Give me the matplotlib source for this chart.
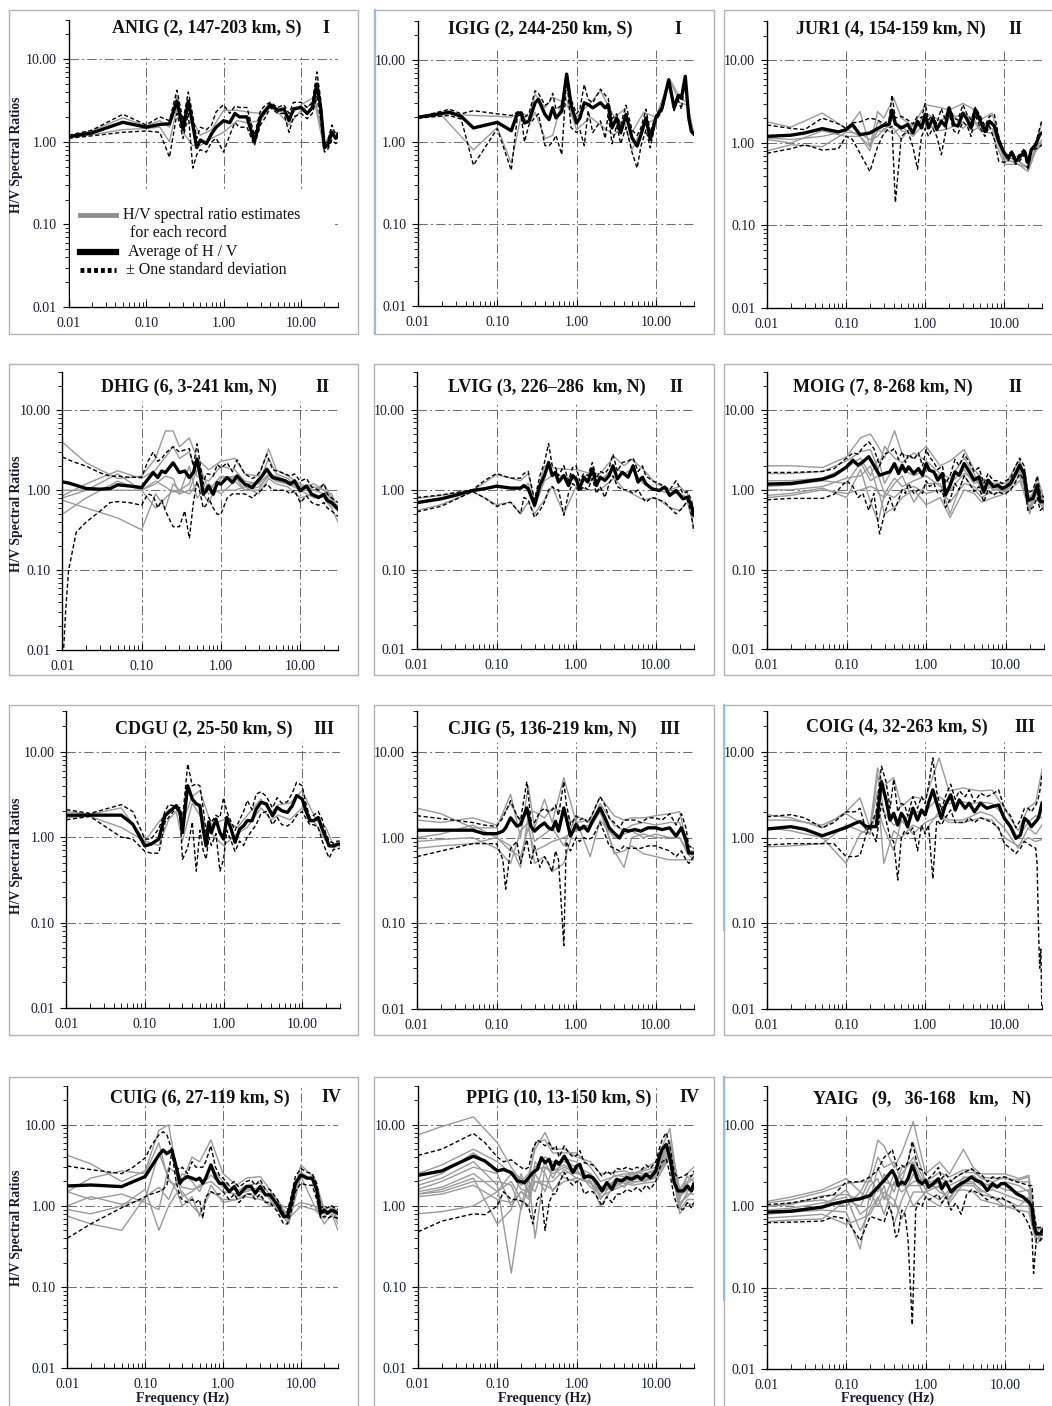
import numpy as np
import matplotlib.pyplot as plt
from matplotlib.patches import Rectangle
from matplotlib.lines import Line2D
from matplotlib.ticker import LogLocator, NullFormatter

W, H = 1052, 1406
plt.rcParams['font.family'] = ['Liberation Serif', 'DejaVu Serif']

#%% Data (Hz, H/V ratio)

# common frequency grid for the individual records (grey)
rec_f = [0.01, 0.02, 0.05, 0.1, 0.15, 0.2, 0.25, 0.3, 0.4, 0.5, 0.7, 1.0, 1.5, 2.0, 3.0, 4.0, 5.0, 7.0, 10, 15, 20, 25, 30]

# ANIG
anig_f = [0.01, 0.02, 0.05, 0.1, 0.15, 0.2, 0.25, 0.3, 0.35, 0.4, 0.45, 0.5, 0.6, 0.7, 0.8, 1.0, 1.2, 1.4, 1.6, 2.0, 2.5, 3.0, 3.5, 4.0, 5.0, 6.0, 7.0, 8.0, 10, 12, 14, 16, 18, 20, 22, 25, 28, 30]
anig_avg = [1.15, 1.28, 1.72, 1.5, 1.62, 1.65, 3.1, 1.4, 3.1, 1.6, 0.85, 1.05, 0.95, 1.25, 1.5, 1.8, 1.7, 2.2, 2.0, 2.0, 1.0, 2.0, 2.4, 2.8, 2.4, 2.5, 1.8, 2.5, 2.6, 2.2, 2.6, 5.0, 2.5, 0.85, 0.9, 1.3, 1.1, 1.2]
anig_hi = [1.2, 1.38, 2.15, 1.6, 2.0, 1.8, 4.2, 1.8, 4.0, 2.1, 1.1, 1.5, 1.4, 1.6, 2.3, 2.8, 2.2, 2.7, 2.6, 2.6, 1.2, 2.4, 2.8, 3.0, 2.6, 2.8, 2.2, 3.0, 3.0, 2.6, 3.0, 7.0, 3.2, 0.95, 1.0, 1.6, 1.2, 1.3]
anig_lo = [1.1, 1.18, 1.3, 1.35, 1.3, 0.65, 2.2, 1.1, 2.2, 0.48, 0.7, 0.8, 0.75, 1.0, 1.1, 0.75, 1.2, 1.7, 1.5, 1.5, 0.9, 1.6, 2.0, 2.6, 2.2, 2.2, 1.3, 2.0, 2.2, 1.9, 2.2, 3.5, 1.8, 0.75, 0.8, 1.05, 0.95, 1.0]
anig_recs = [
    [1.18, 1.35, 1.95, 1.55, 1.8, 1.5, 3.6, 1.5, 1.8, 1.2, 1.4, 2.4, 2.4, 2.3, 2.2, 2.9, 2.5, 2.0, 2.8, 3.5, 0.9, 1.4, 1.25],
    [1.12, 1.22, 1.4, 1.45, 1.5, 1.0, 2.6, 1.3, 0.9, 0.9, 1.1, 1.3, 1.8, 1.7, 1.8, 2.7, 2.3, 1.6, 2.4, 3.0, 0.8, 1.2, 1.1],
]

# IGIG
igig_f = [0.01, 0.025, 0.035, 0.05, 0.1, 0.15, 0.18, 0.2, 0.22, 0.25, 0.3, 0.33, 0.4, 0.45, 0.5, 0.55, 0.65, 0.75, 0.85, 1.0, 1.1, 1.25, 1.4, 1.6, 2.0, 2.3, 2.5, 2.8, 3.2, 3.6, 4.2, 5, 5.8, 6.5, 7.5, 8.5, 10, 12, 14.5, 17, 19, 21, 23.5, 26, 28, 30]
igig_avg = [2.0, 2.3, 2.05, 1.48, 1.73, 1.37, 2.25, 2.25, 1.7, 1.78, 3.0, 3.3, 2.15, 1.87, 2.6, 1.96, 2.36, 6.7, 2.85, 1.7, 1.96, 3.0, 2.85, 2.6, 3.0, 2.6, 2.85, 1.48, 1.96, 1.29, 2.15, 1.12, 0.89, 1.23, 1.96, 1.07, 1.96, 2.6, 5.7, 2.6, 3.6, 3.4, 6.3, 1.96, 1.35, 1.25]
igig_hi = [2.0, 2.5, 2.2, 2.4, 2.2, 2.1, 2.3, 2.35, 2.0, 2.2, 4.2, 3.9, 2.8, 3.0, 3.9, 2.5, 2.8, 7.0, 3.3, 2.2, 2.5, 5.0, 3.3, 3.0, 4.4, 3.7, 3.4, 1.9, 2.2, 1.6, 2.8, 1.4, 1.2, 1.5, 2.5, 1.3, 2.1, 2.7, 5.9, 2.8, 3.8, 3.7, 6.3, 2.0, 1.4, 1.25]
igig_lo = [1.95, 2.1, 1.9, 0.52, 1.45, 0.45, 2.1, 2.1, 1.0, 1.6, 2.0, 2.2, 0.9, 0.9, 1.0, 1.2, 0.7, 6.2, 1.5, 1.3, 1.4, 0.9, 2.4, 1.3, 1.8, 1.1, 2.2, 0.95, 1.6, 0.95, 1.5, 0.75, 0.48, 0.9, 1.4, 0.85, 1.8, 2.4, 5.5, 2.4, 3.3, 2.5, 6.0, 1.9, 1.3, 1.25]
igig_recs = [
    [2.0, 2.2, 2.1, 2.05, 2.0, 2.3, 2.0, 3.8, 2.6, 3.5, 3.0, 2.0, 3.0, 4.2, 2.0, 2.5, 1.3, 2.3, 2.0, 5.8, 3.5, 3.0, 1.25],
    [1.95, 2.1, 0.8, 1.5, 0.55, 2.1, 1.7, 2.3, 1.1, 1.2, 4.0, 1.4, 2.0, 1.6, 1.2, 1.8, 0.8, 1.6, 1.9, 5.6, 3.0, 2.8, 1.25],
]

# JUR1
jur1_f = [0.01, 0.02, 0.03, 0.05, 0.08, 0.1, 0.12, 0.15, 0.2, 0.25, 0.3, 0.35, 0.38, 0.42, 0.5, 0.6, 0.7, 0.8, 0.9, 1.0, 1.1, 1.25, 1.4, 1.6, 1.8, 2.0, 2.3, 2.6, 3.0, 3.4, 3.8, 4.3, 5, 5.7, 6.5, 7.5, 8.5, 10, 11, 12.5, 14, 16, 18, 20, 22, 25, 28, 30]
jur1_avg = [1.2, 1.24, 1.32, 1.49, 1.36, 1.45, 1.67, 1.26, 1.32, 1.49, 1.64, 1.67, 2.5, 1.7, 1.52, 1.67, 1.32, 1.83, 1.52, 2.2, 1.52, 2.0, 1.45, 1.83, 1.6, 2.66, 1.67, 1.6, 2.3, 1.92, 1.52, 2.54, 1.83, 1.38, 1.83, 1.6, 1.05, 0.76, 0.66, 0.76, 0.6, 0.69, 0.79, 0.57, 0.83, 0.95, 1.26, 1.32]
jur1_hi = [1.65, 1.5, 1.45, 2.0, 1.7, 1.5, 1.75, 1.8, 2.0, 1.9, 1.7, 1.9, 3.8, 2.0, 2.1, 1.9, 1.7, 2.1, 2.0, 3.0, 1.9, 2.2, 1.7, 2.6, 1.9, 2.8, 2.0, 1.9, 2.9, 2.2, 1.9, 2.7, 2.1, 1.6, 2.1, 2.2, 1.2, 0.75, 0.72, 0.8, 0.65, 0.75, 0.85, 0.62, 0.85, 1.0, 1.5, 1.9]
jur1_lo = [0.75, 0.85, 0.95, 0.82, 0.85, 1.2, 1.1, 0.75, 0.45, 0.9, 1.3, 1.5, 1.6, 0.19, 1.2, 1.4, 0.9, 0.48, 1.2, 1.5, 1.2, 1.5, 1.2, 0.72, 1.3, 2.3, 1.4, 1.3, 1.8, 1.6, 1.2, 2.2, 1.5, 1.2, 1.6, 1.1, 0.6, 0.58, 0.6, 0.7, 0.55, 0.62, 0.72, 0.47, 0.8, 0.85, 0.9, 0.95]
jur1_recs = [
    [1.8, 1.55, 2.3, 1.5, 1.2, 0.9, 2.4, 2.0, 3.5, 2.0, 1.6, 2.9, 2.7, 2.5, 3.0, 2.6, 1.9, 2.3, 0.7, 0.6, 0.5, 0.9, 1.8],
    [1.15, 1.1, 1.2, 1.4, 2.4, 0.9, 1.4, 1.4, 2.0, 1.4, 1.3, 2.3, 1.9, 2.0, 2.2, 2.0, 1.5, 1.8, 0.6, 0.6, 0.5, 0.85, 1.1],
    [1.1, 1.0, 1.4, 1.2, 1.2, 0.8, 1.8, 1.6, 1.5, 1.1, 1.7, 1.5, 1.6, 2.6, 1.5, 1.9, 1.4, 1.3, 0.55, 0.55, 0.45, 0.8, 1.0],
    [0.8, 0.95, 0.9, 1.35, 1.3, 1.1, 1.2, 1.5, 1.3, 1.6, 1.2, 1.8, 1.4, 1.5, 1.8, 1.4, 1.6, 1.5, 0.65, 0.55, 0.5, 0.8, 0.95],
]

# DHIG
dhig_f = [0.01, 0.011, 0.012, 0.015, 0.02, 0.03, 0.04, 0.05, 0.07, 0.1, 0.12, 0.14, 0.16, 0.18, 0.2, 0.25, 0.3, 0.35, 0.4, 0.45, 0.5, 0.55, 0.6, 0.65, 0.7, 0.8, 0.9, 1.0, 1.2, 1.4, 1.6, 2.0, 2.5, 2.8, 3.2, 3.8, 4.5, 5.5, 6.5, 7.5, 8.5, 10, 12, 14, 17, 20, 22, 25, 30]
dhig_avg = [1.27, 1.25, 1.23, 1.15, 1.05, 1.03, 1.05, 1.17, 1.13, 1.08, 1.37, 1.66, 1.44, 1.74, 1.66, 2.2, 1.66, 1.74, 1.44, 1.66, 2.44, 1.51, 0.89, 0.98, 1.13, 0.89, 1.25, 1.19, 1.44, 1.25, 1.51, 1.19, 1.08, 1.25, 1.44, 1.83, 1.44, 1.37, 1.31, 1.19, 1.31, 0.98, 1.13, 0.89, 0.81, 0.89, 0.74, 0.7, 0.58]
dhig_hi = [2.6, 2.5, 2.4, 2.2, 2.0, 1.65, 1.5, 1.5, 1.45, 1.45, 2.3, 3.0, 2.3, 2.5, 2.9, 3.5, 3.0, 3.2, 3.3, 2.0, 3.8, 2.1, 1.2, 1.6, 1.6, 1.5, 2.1, 1.9, 2.2, 1.7, 2.4, 1.6, 1.4, 1.5, 1.8, 2.8, 1.8, 1.7, 1.6, 1.5, 1.6, 1.3, 1.4, 1.1, 1.0, 1.2, 0.9, 0.8, 0.7]
dhig_lo = [0.005, 0.03, 0.1, 0.3, 0.4, 0.55, 0.7, 0.72, 0.7, 0.65, 0.9, 0.85, 0.6, 0.75, 0.55, 0.35, 0.35, 0.55, 0.25, 0.7, 1.3, 0.9, 0.6, 0.65, 0.8, 0.6, 0.5, 0.5, 0.8, 0.9, 0.9, 0.9, 0.8, 0.9, 1.0, 1.2, 1.0, 1.0, 1.0, 0.9, 1.0, 0.7, 0.85, 0.7, 0.65, 0.7, 0.6, 0.55, 0.47]
dhig_recs = [
    [4.0, 2.2, 1.4, 1.5, 2.5, 5.5, 5.5, 3.5, 4.5, 2.5, 1.8, 2.3, 2.5, 1.6, 1.5, 3.3, 1.8, 1.5, 1.2, 1.0, 1.2, 0.8, 0.6],
    [0.85, 1.2, 1.75, 1.4, 1.8, 2.6, 3.5, 2.5, 3.0, 1.5, 1.3, 2.0, 1.8, 1.3, 1.2, 2.5, 1.6, 1.4, 1.0, 1.0, 0.9, 0.7, 0.65],
    [0.8, 1.0, 1.6, 1.0, 1.2, 1.5, 1.4, 0.9, 1.0, 1.8, 0.9, 1.0, 1.0, 1.1, 0.9, 1.4, 1.2, 1.1, 0.8, 0.9, 0.8, 0.6, 0.4],
    [0.75, 0.6, 0.45, 0.32, 0.9, 0.6, 1.2, 1.0, 0.9, 1.2, 0.7, 1.4, 1.5, 1.0, 1.0, 1.6, 1.3, 1.2, 1.1, 1.2, 1.0, 0.9, 0.55],
    [0.5, 0.8, 1.3, 1.0, 0.6, 0.8, 1.0, 0.9, 2.0, 0.8, 1.2, 0.9, 1.3, 1.0, 1.1, 1.5, 1.3, 1.2, 1.0, 0.8, 0.9, 0.65, 0.55],
    [1.0, 1.0, 1.0, 1.0, 1.3, 1.1, 0.95, 1.0, 1.2, 2.5, 1.0, 1.5, 1.4, 1.2, 1.2, 1.6, 1.5, 1.3, 1.1, 1.1, 1.0, 0.75, 0.6],
]

# LVIG
lvig_f = [0.01, 0.02, 0.03, 0.05, 0.07, 0.1, 0.15, 0.2, 0.22, 0.25, 0.3, 0.35, 0.4, 0.45, 0.5, 0.55, 0.6, 0.7, 0.8, 0.9, 1.0, 1.1, 1.25, 1.4, 1.6, 1.8, 2.0, 2.3, 2.6, 2.9, 3.3, 3.8, 4.5, 5.2, 6, 6.8, 7.5, 9, 11, 13, 15, 18, 22, 25, 28, 30]
lvig_avg = [0.69, 0.77, 0.85, 0.98, 1.03, 1.11, 1.05, 1.05, 1.13, 1.03, 0.64, 1.13, 1.51, 2.2, 1.51, 1.66, 1.25, 1.51, 1.13, 1.51, 1.37, 1.03, 1.44, 1.25, 1.83, 1.13, 1.44, 1.31, 1.51, 2.0, 1.37, 1.66, 1.44, 2.0, 1.25, 1.44, 1.19, 1.03, 0.98, 1.08, 0.85, 0.98, 0.77, 0.81, 0.64, 0.48]
lvig_hi = [0.8, 0.86, 0.92, 1.0, 1.3, 1.6, 1.4, 1.4, 1.6, 1.7, 0.75, 1.5, 2.2, 3.8, 2.0, 1.9, 1.5, 2.0, 1.3, 1.9, 2.0, 1.3, 1.6, 1.5, 2.2, 1.4, 1.7, 1.6, 1.9, 2.8, 1.7, 2.2, 2.3, 2.5, 1.7, 2.0, 1.5, 1.3, 1.2, 1.1, 1.0, 1.3, 0.9, 0.95, 0.75, 0.55]
lvig_lo = [0.53, 0.62, 0.75, 0.95, 0.8, 0.62, 0.7, 0.5, 0.8, 0.75, 0.45, 0.55, 0.7, 1.0, 1.1, 1.0, 1.0, 0.48, 0.9, 1.2, 1.1, 0.95, 1.1, 1.0, 1.4, 0.9, 1.1, 0.8, 1.2, 1.5, 1.1, 1.0, 1.0, 0.9, 1.0, 0.8, 0.7, 0.8, 0.75, 0.7, 0.6, 0.5, 0.6, 0.75, 0.5, 0.3]
lvig_recs = [
    [0.78, 0.85, 0.98, 1.55, 1.4, 1.3, 1.6, 0.7, 2.0, 1.9, 1.8, 1.8, 1.6, 1.6, 2.6, 2.0, 2.4, 1.8, 1.2, 1.0, 1.1, 0.9, 0.55],
    [0.55, 0.65, 0.95, 0.65, 0.7, 0.5, 0.7, 0.5, 0.75, 1.1, 0.5, 1.1, 1.0, 1.0, 1.4, 1.0, 0.9, 0.75, 0.8, 0.6, 0.55, 0.7, 0.35],
    [0.7, 0.78, 1.0, 1.1, 1.05, 1.0, 1.2, 0.6, 1.3, 1.5, 1.5, 1.3, 1.3, 1.3, 1.9, 1.6, 1.8, 1.2, 1.0, 0.9, 0.9, 0.8, 0.45],
]

# MOIG
moig_f = [0.01, 0.02, 0.05, 0.07, 0.1, 0.12, 0.14, 0.16, 0.19, 0.22, 0.26, 0.3, 0.35, 0.4, 0.45, 0.5, 0.55, 0.6, 0.7, 0.8, 0.9, 1.0, 1.1, 1.25, 1.4, 1.6, 1.75, 2.0, 2.3, 2.6, 3.0, 3.5, 4.0, 4.6, 5.3, 6.0, 7.0, 8, 9, 10, 11.5, 13, 15, 17, 19, 22, 25, 27, 30]
moig_avg = [1.18, 1.2, 1.36, 1.52, 1.94, 2.35, 2.03, 2.24, 2.6, 2.03, 1.52, 1.6, 1.68, 2.13, 1.6, 2.03, 1.68, 1.94, 1.6, 1.85, 1.52, 2.13, 1.76, 1.68, 1.32, 1.6, 0.86, 1.14, 1.68, 1.52, 2.13, 1.68, 1.32, 1.45, 0.94, 1.32, 1.09, 1.14, 1.04, 1.09, 1.2, 1.52, 2.03, 1.6, 0.74, 0.78, 1.14, 0.71, 0.71]
moig_hi = [1.65, 1.65, 1.7, 1.85, 2.5, 2.9, 2.8, 3.4, 4.0, 3.3, 2.0, 2.8, 3.0, 3.3, 2.4, 3.0, 2.2, 2.8, 2.4, 2.9, 2.0, 3.2, 2.6, 2.2, 1.8, 2.0, 1.2, 1.5, 2.4, 2.0, 2.8, 2.2, 1.7, 1.9, 1.2, 1.6, 1.3, 1.3, 1.2, 1.3, 1.4, 1.9, 2.5, 2.0, 0.9, 1.0, 1.5, 0.9, 0.8]
moig_lo = [0.75, 0.78, 0.78, 0.88, 1.3, 1.1, 0.8, 0.9, 0.55, 0.9, 0.28, 0.5, 0.8, 0.55, 0.75, 1.0, 0.9, 1.2, 0.9, 1.0, 0.9, 1.3, 1.1, 1.2, 0.9, 1.0, 0.6, 0.75, 1.2, 1.0, 1.5, 1.2, 0.95, 1.1, 0.7, 1.0, 0.85, 0.95, 0.9, 0.9, 1.0, 1.2, 1.6, 1.3, 0.55, 0.6, 0.8, 0.55, 0.6]
moig_recs = [
    [2.0, 2.0, 1.9, 2.6, 4.5, 5.0, 3.5, 2.5, 5.5, 2.8, 2.5, 3.5, 2.0, 2.3, 3.2, 1.8, 1.4, 1.2, 1.2, 2.4, 0.7, 1.4, 0.8],
    [1.6, 1.6, 1.7, 2.3, 3.0, 3.2, 1.8, 3.5, 2.5, 2.2, 2.9, 2.3, 1.6, 1.4, 2.5, 1.6, 1.0, 1.1, 1.0, 2.2, 0.6, 1.2, 0.7],
    [1.3, 1.3, 1.4, 1.9, 2.5, 1.5, 2.5, 1.2, 2.0, 1.8, 1.5, 1.8, 1.5, 1.2, 1.8, 1.2, 1.3, 1.0, 1.1, 1.9, 0.55, 1.0, 0.6],
    [1.0, 1.0, 1.1, 1.4, 1.5, 2.0, 0.9, 0.8, 1.2, 1.5, 0.7, 1.2, 1.2, 0.5, 1.5, 1.0, 0.8, 1.0, 1.0, 1.7, 0.7, 0.9, 0.65],
    [0.85, 0.9, 1.05, 0.8, 1.8, 0.7, 0.4, 0.9, 0.8, 1.0, 1.1, 0.9, 1.0, 0.7, 1.2, 1.1, 0.9, 0.9, 0.95, 1.5, 0.5, 1.1, 0.6],
    [0.8, 0.85, 1.0, 0.9, 1.0, 1.1, 1.0, 0.5, 0.6, 0.8, 1.0, 0.65, 0.8, 0.45, 1.0, 0.9, 0.7, 0.8, 0.9, 1.3, 0.6, 0.8, 0.55],
    [1.1, 1.15, 1.3, 1.2, 2.2, 1.3, 1.5, 0.9, 1.4, 1.1, 1.3, 1.5, 1.1, 1.0, 1.6, 1.4, 1.1, 1.2, 1.2, 1.8, 0.8, 1.1, 0.7],
]

# CDGU
cdgu_f = [0.01, 0.02, 0.05, 0.07, 0.1, 0.12, 0.15, 0.18, 0.2, 0.25, 0.28, 0.3, 0.35, 0.4, 0.45, 0.5, 0.55, 0.6, 0.65, 0.7, 0.8, 0.9, 1.0, 1.1, 1.25, 1.4, 1.6, 1.8, 2.0, 2.3, 2.6, 3.0, 3.5, 4.2, 4.8, 5.5, 6.5, 7.5, 8.5, 10, 11, 12.5, 14, 16, 18, 20, 22, 25, 28, 30]
cdgu_avg = [1.81, 1.81, 1.81, 1.42, 0.79, 0.83, 0.95, 1.78, 1.95, 2.34, 1.95, 1.13, 4.0, 2.8, 2.45, 2.34, 1.24, 0.79, 1.49, 1.13, 1.63, 1.13, 0.95, 1.7, 1.24, 0.87, 1.24, 1.36, 1.56, 1.56, 2.13, 2.56, 2.45, 1.78, 2.23, 2.04, 1.95, 2.34, 3.07, 2.8, 2.13, 1.56, 1.56, 1.7, 1.24, 1.0, 0.79, 0.79, 0.83, 0.83]
cdgu_hi = [2.1, 1.9, 2.4, 2.0, 0.95, 0.95, 1.25, 2.0, 2.4, 2.3, 2.2, 1.6, 7.2, 4.0, 4.2, 4.0, 2.2, 1.1, 1.7, 1.5, 1.8, 1.7, 2.9, 2.0, 1.5, 1.2, 1.6, 2.0, 2.7, 2.1, 3.2, 3.4, 3.0, 2.2, 2.9, 2.5, 2.6, 3.3, 4.4, 4.0, 2.6, 1.7, 1.8, 2.0, 1.6, 1.1, 0.9, 0.85, 0.9, 0.9]
cdgu_lo = [1.6, 1.75, 1.0, 0.95, 0.68, 0.65, 0.65, 1.5, 1.7, 2.2, 1.8, 0.55, 0.75, 1.5, 0.4, 1.2, 0.7, 0.55, 1.0, 0.8, 1.1, 0.4, 0.55, 1.2, 0.9, 0.68, 0.9, 0.8, 1.0, 1.2, 1.4, 1.9, 2.0, 1.4, 1.7, 1.4, 1.35, 1.5, 1.8, 2.0, 1.7, 1.4, 1.4, 1.3, 0.9, 0.7, 0.57, 0.72, 0.72, 0.75]
cdgu_recs = [
    [2.0, 1.85, 2.2, 0.9, 1.5, 2.1, 2.2, 1.5, 3.0, 3.5, 1.4, 1.6, 1.3, 1.8, 2.8, 1.9, 2.4, 2.5, 3.5, 1.6, 1.3, 0.8, 0.85],
    [1.7, 1.75, 1.3, 0.9, 0.8, 1.6, 2.0, 0.9, 2.5, 1.8, 1.1, 0.8, 1.1, 1.3, 2.2, 1.6, 1.8, 1.6, 2.2, 1.4, 0.9, 0.75, 0.8],
]

# CJIG
cjig_f = [0.01, 0.05, 0.07, 0.1, 0.12, 0.13, 0.15, 0.18, 0.2, 0.24, 0.27, 0.3, 0.35, 0.4, 0.45, 0.5, 0.55, 0.6, 0.7, 0.75, 0.85, 1.0, 1.1, 1.25, 1.4, 1.6, 2.0, 2.3, 2.6, 3.0, 3.5, 4.0, 4.5, 5.5, 6.5, 8, 10, 12, 15, 18, 21, 24, 26, 30]
cjig_avg = [1.22, 1.22, 1.11, 1.11, 1.19, 1.3, 1.7, 1.36, 1.42, 2.22, 1.36, 1.19, 1.36, 1.48, 1.3, 1.24, 1.55, 1.19, 2.22, 1.7, 1.04, 1.42, 1.24, 1.36, 1.19, 1.55, 2.22, 1.7, 1.3, 1.13, 0.99, 1.24, 1.19, 1.24, 1.19, 1.3, 1.3, 1.24, 1.3, 1.04, 1.3, 0.95, 0.66, 0.66]
cjig_hi = [1.8, 1.5, 1.4, 1.35, 1.7, 2.0, 2.7, 1.8, 1.6, 4.5, 1.6, 1.5, 2.0, 2.2, 2.0, 2.1, 2.4, 1.8, 4.5, 2.5, 1.4, 1.8, 1.6, 1.7, 1.5, 1.9, 3.0, 2.4, 1.7, 1.5, 1.3, 1.6, 1.6, 1.6, 1.5, 1.7, 1.7, 1.6, 1.9, 1.4, 1.9, 1.3, 0.8, 0.75]
cjig_lo = [0.6, 0.85, 0.85, 0.85, 0.55, 0.25, 0.75, 0.9, 0.5, 0.95, 0.5, 0.8, 0.45, 0.6, 0.5, 0.4, 0.7, 0.55, 0.055, 0.9, 0.7, 1.0, 0.9, 1.0, 0.95, 1.0, 1.5, 1.1, 0.8, 0.75, 0.7, 0.8, 0.75, 0.75, 0.75, 0.8, 0.8, 0.75, 0.7, 0.6, 0.7, 0.55, 0.5, 0.6]
cjig_recs = [
    [2.2, 1.9, 1.3, 1.3, 3.2, 1.0, 4.0, 1.3, 2.8, 1.5, 5.0, 1.5, 1.6, 3.0, 1.8, 1.6, 1.7, 1.7, 1.8, 1.9, 2.0, 0.8, 0.75],
    [1.6, 1.5, 1.7, 1.4, 2.5, 1.5, 2.0, 2.0, 1.7, 2.2, 2.0, 1.3, 1.4, 2.5, 1.4, 1.2, 1.4, 1.5, 1.4, 1.5, 1.5, 0.7, 0.7],
    [1.0, 1.1, 1.4, 1.0, 0.7, 0.6, 1.3, 0.7, 0.8, 0.9, 1.0, 1.2, 1.3, 2.0, 0.7, 0.45, 1.0, 1.1, 1.0, 1.0, 1.0, 0.7, 0.6],
    [0.9, 0.95, 1.0, 0.75, 0.5, 1.2, 1.5, 0.5, 0.6, 0.4, 0.5, 1.6, 0.6, 1.6, 1.0, 1.1, 1.2, 1.0, 1.1, 1.0, 1.0, 0.65, 0.55],
    [0.75, 0.8, 0.85, 1.0, 0.8, 0.45, 1.8, 0.9, 1.1, 1.3, 0.8, 1.8, 1.5, 2.2, 0.65, 0.7, 0.8, 0.65, 0.6, 0.55, 0.55, 0.55, 0.55],
]

# COIG
coig_f = [0.01, 0.02, 0.03, 0.05, 0.07, 0.1, 0.13, 0.15, 0.18, 0.2, 0.24, 0.28, 0.32, 0.36, 0.4, 0.45, 0.5, 0.55, 0.6, 0.7, 0.8, 0.9, 1.0, 1.1, 1.25, 1.4, 1.6, 1.8, 2.1, 2.4, 2.7, 3.2, 3.6, 4.2, 5, 6, 7, 8.5, 10, 12, 14, 16, 18, 20, 22, 25, 26, 27, 28, 29, 30]
coig_avg = [1.26, 1.34, 1.25, 1.05, 1.17, 1.31, 1.47, 1.54, 1.34, 1.34, 1.34, 4.5, 2.75, 1.6, 1.92, 1.4, 1.92, 1.68, 1.34, 2.2, 1.6, 2.1, 1.84, 2.52, 3.6, 2.52, 1.68, 2.4, 3.15, 2.1, 2.75, 2.2, 2.52, 2.0, 2.52, 2.2, 2.3, 2.4, 1.68, 1.34, 0.98, 1.07, 1.68, 1.54, 1.34, 1.54, 1.6, 1.7, 1.9, 2.2, 2.52]
coig_hi = [1.75, 1.85, 1.7, 1.3, 1.5, 2.0, 2.0, 2.2, 1.2, 1.3, 2.0, 6.8, 4.5, 2.2, 4.8, 2.0, 2.5, 2.4, 1.8, 3.0, 2.2, 3.0, 2.5, 4.0, 8.5, 3.4, 2.1, 3.0, 4.2, 2.8, 3.5, 3.0, 3.6, 2.6, 3.3, 3.0, 3.2, 3.6, 2.2, 1.8, 1.3, 1.6, 2.2, 2.2, 2.0, 2.4, 2.6, 2.9, 3.4, 4.2, 5.5]
coig_lo = [0.82, 0.85, 0.85, 0.85, 0.85, 0.6, 0.6, 0.62, 1.1, 1.3, 0.9, 2.5, 1.6, 1.0, 0.9, 0.32, 1.0, 1.2, 1.1, 1.3, 0.7, 1.4, 1.1, 1.4, 0.33, 1.6, 1.4, 1.7, 2.1, 1.5, 1.5, 1.5, 1.7, 1.5, 1.7, 1.6, 1.5, 1.3, 0.85, 0.75, 0.65, 0.75, 0.9, 0.85, 0.8, 0.75, 0.5, 0.1, 0.03, 0.05, 0.008]
coig_recs = [
    [1.85, 1.7, 1.3, 2.0, 2.9, 1.3, 6.5, 4.0, 5.0, 2.3, 3.0, 2.8, 8.5, 3.5, 3.8, 3.6, 3.5, 3.6, 2.2, 1.2, 2.2, 2.6, 6.2],
    [1.6, 1.6, 1.4, 1.9, 1.5, 1.1, 5.5, 2.0, 1.4, 1.5, 2.0, 2.0, 3.0, 2.5, 2.6, 2.5, 2.6, 2.5, 1.8, 1.0, 1.5, 1.8, 1.7],
    [1.3, 1.2, 1.0, 0.5, 1.1, 1.3, 3.5, 0.5, 1.2, 1.0, 1.4, 1.2, 2.0, 1.6, 1.6, 1.8, 2.0, 1.8, 1.3, 0.75, 1.3, 1.1, 1.4],
    [0.78, 0.8, 0.85, 1.4, 1.2, 1.1, 2.2, 1.3, 0.7, 1.6, 1.1, 1.5, 1.8, 1.5, 1.5, 1.6, 1.7, 1.6, 1.0, 0.8, 1.0, 0.9, 0.95],
]

# CUIG
cuig_f = [0.01, 0.02, 0.05, 0.07, 0.1, 0.12, 0.15, 0.17, 0.19, 0.22, 0.25, 0.28, 0.3, 0.35, 0.4, 0.45, 0.5, 0.55, 0.6, 0.7, 0.8, 0.9, 1.0, 1.2, 1.4, 1.6, 2.0, 2.3, 2.6, 3.0, 3.5, 4.0, 5, 6, 6.7, 7.5, 8.5, 10, 12, 14, 16, 18, 20, 22, 25, 30]
cuig_avg = [1.76, 1.81, 1.73, 1.99, 2.3, 3.04, 4.24, 4.88, 4.4, 4.88, 3.04, 1.9, 2.09, 2.3, 2.2, 2.09, 2.2, 1.9, 2.2, 3.2, 2.3, 1.9, 1.9, 1.5, 1.73, 1.37, 1.73, 1.73, 1.43, 1.73, 1.37, 1.37, 1.03, 0.74, 0.74, 1.08, 1.9, 2.4, 2.2, 2.2, 1.57, 0.81, 0.89, 0.81, 0.89, 0.81]
cuig_hi = [3.1, 2.8, 2.5, 3.0, 3.9, 5.5, 7.5, 8.2, 7.5, 5.0, 3.0, 2.8, 3.0, 2.5, 3.5, 3.0, 3.0, 3.0, 3.5, 5.5, 3.0, 2.4, 2.2, 1.8, 2.0, 1.7, 2.0, 2.1, 1.8, 2.1, 1.6, 1.6, 1.2, 0.8, 0.85, 1.3, 2.3, 2.9, 2.6, 2.5, 1.9, 0.95, 1.0, 0.95, 1.0, 0.9]
cuig_lo = [0.4, 0.6, 0.95, 1.1, 1.3, 1.4, 1.5, 1.6, 1.8, 4.7, 2.0, 1.3, 1.2, 1.1, 1.2, 1.1, 1.2, 0.7, 1.3, 1.5, 1.4, 1.4, 1.5, 1.2, 1.4, 1.1, 1.4, 1.4, 1.2, 1.4, 1.1, 1.1, 0.85, 0.6, 0.6, 0.85, 1.5, 1.9, 1.8, 1.8, 1.2, 0.7, 0.75, 0.7, 0.75, 0.7]
cuig_recs = [
    [4.2, 3.3, 2.0, 2.7, 8.5, 10.0, 3.0, 2.0, 4.0, 3.5, 6.5, 2.5, 1.8, 2.2, 2.3, 1.6, 1.0, 0.8, 3.2, 2.2, 0.9, 1.0, 0.8],
    [1.5, 2.2, 2.7, 2.5, 6.0, 2.0, 1.8, 2.5, 2.0, 1.5, 3.0, 2.0, 1.5, 1.8, 1.9, 1.4, 1.2, 0.7, 2.6, 2.0, 0.8, 0.9, 0.7],
    [1.5, 1.2, 1.4, 1.1, 0.9, 3.0, 2.5, 1.3, 1.5, 1.8, 2.0, 1.5, 1.4, 1.5, 1.7, 1.2, 0.9, 0.6, 2.3, 1.0, 0.6, 0.8, 0.5],
    [0.9, 0.8, 1.0, 1.6, 0.5, 1.0, 1.4, 1.5, 1.0, 0.8, 1.5, 1.2, 1.2, 1.3, 1.2, 1.1, 1.0, 0.7, 1.0, 0.9, 0.7, 1.0, 0.85],
    [0.75, 0.6, 0.5, 1.3, 1.7, 1.2, 2.0, 1.7, 1.6, 1.7, 2.4, 1.7, 1.3, 1.6, 1.5, 1.3, 1.1, 0.65, 2.5, 2.0, 0.9, 0.85, 0.8],
    [1.0, 1.3, 1.05, 1.2, 4.5, 2.2, 1.6, 1.0, 1.3, 0.75, 1.8, 1.1, 1.2, 1.4, 1.3, 1.0, 1.1, 0.9, 1.1, 1.0, 0.8, 0.9, 0.6],
]

# PPIG
ppig_f = [0.01, 0.02, 0.05, 0.07, 0.1, 0.12, 0.15, 0.18, 0.22, 0.25, 0.28, 0.32, 0.36, 0.4, 0.45, 0.5, 0.55, 0.6, 0.7, 0.8, 0.9, 1.0, 1.1, 1.25, 1.4, 1.6, 1.8, 2.1, 2.4, 2.8, 3.2, 3.7, 4.3, 5, 5.8, 6.6, 7.5, 8.5, 10, 11, 12, 13.5, 15, 17, 19, 22, 25, 28, 30]
ppig_avg = [2.38, 2.7, 4.1, 3.57, 2.7, 2.82, 2.57, 2.03, 1.94, 2.23, 2.57, 2.82, 3.93, 3.4, 3.75, 2.82, 3.57, 3.25, 4.1, 3.25, 2.57, 3.1, 3.25, 2.23, 2.34, 2.23, 1.94, 1.53, 1.94, 1.6, 2.13, 2.03, 2.23, 2.13, 2.34, 2.13, 2.45, 2.23, 2.7, 3.93, 4.97, 5.7, 3.93, 1.94, 1.53, 1.53, 1.76, 1.53, 1.85]
ppig_hi = [4.2, 5.0, 7.8, 6.0, 4.0, 3.5, 3.7, 3.2, 2.8, 3.0, 5.0, 6.5, 6.0, 5.5, 6.0, 5.0, 5.5, 4.0, 5.5, 4.5, 4.0, 4.2, 4.8, 3.4, 3.3, 3.2, 2.8, 2.3, 2.7, 2.4, 2.9, 2.8, 3.0, 2.8, 3.0, 2.8, 3.2, 2.9, 3.5, 5.0, 6.5, 8.0, 5.5, 2.6, 2.2, 2.3, 2.5, 2.3, 2.7]
ppig_lo = [0.48, 0.65, 0.8, 0.78, 1.0, 1.5, 1.2, 1.2, 1.1, 0.95, 0.6, 1.2, 1.4, 0.5, 1.1, 1.4, 1.4, 1.9, 2.6, 2.0, 1.8, 2.0, 2.0, 1.4, 1.5, 1.5, 1.3, 1.0, 1.3, 1.1, 1.4, 1.4, 1.6, 1.5, 1.7, 1.5, 1.8, 1.6, 2.0, 2.8, 3.5, 3.8, 2.5, 1.3, 0.95, 0.9, 1.1, 0.95, 1.1]
ppig_recs = [
    [7.5, 9.5, 12.5, 6.0, 3.0, 2.0, 2.5, 5.0, 8.0, 5.0, 5.0, 4.0, 3.5, 2.5, 2.6, 2.7, 2.5, 2.8, 3.5, 9.0, 1.2, 2.5, 3.0],
    [2.5, 3.2, 5.0, 3.5, 2.5, 1.8, 2.0, 6.0, 6.5, 4.5, 4.5, 4.5, 3.0, 2.0, 2.3, 2.5, 2.4, 2.7, 3.0, 6.5, 1.6, 2.3, 2.0],
    [2.0, 2.5, 4.5, 2.8, 2.6, 2.2, 1.5, 3.0, 4.0, 3.5, 3.5, 3.0, 2.5, 1.7, 2.0, 2.2, 2.3, 2.4, 2.7, 5.5, 1.3, 1.6, 1.7],
    [1.8, 2.2, 3.5, 1.8, 0.15, 1.0, 2.2, 0.4, 3.0, 2.5, 3.0, 2.5, 2.3, 1.5, 1.9, 2.0, 2.1, 2.2, 2.5, 5.0, 1.0, 1.4, 1.4],
    [1.6, 2.0, 3.0, 2.5, 1.0, 1.5, 1.3, 2.0, 2.0, 2.0, 2.8, 2.2, 2.0, 1.3, 1.6, 1.8, 2.0, 2.0, 2.3, 4.5, 0.9, 1.2, 1.2],
    [1.5, 1.7, 2.5, 1.5, 2.0, 1.2, 1.0, 2.5, 1.5, 3.0, 2.2, 2.0, 2.5, 1.2, 2.1, 1.9, 1.8, 1.9, 2.0, 4.0, 0.8, 1.1, 1.0],
    [1.4, 1.5, 2.0, 2.0, 1.8, 0.9, 1.8, 1.5, 3.5, 2.2, 3.8, 3.5, 2.0, 1.0, 1.8, 2.1, 2.5, 2.0, 2.2, 4.8, 1.1, 1.3, 1.6],
    [1.3, 1.4, 1.8, 1.2, 1.1, 1.5, 1.2, 3.5, 2.5, 1.5, 2.5, 2.8, 1.7, 1.4, 2.0, 1.7, 2.2, 2.3, 2.4, 4.2, 1.4, 1.9, 2.2],
    [0.8, 0.85, 1.0, 1.5, 2.5, 1.6, 1.5, 2.8, 3.0, 2.7, 3.2, 2.6, 2.2, 1.6, 2.4, 2.3, 2.6, 2.5, 2.8, 6.0, 1.5, 2.0, 2.5],
    [1.4, 1.6, 2.2, 0.6, 0.9, 2.5, 1.4, 2.0, 1.8, 1.6, 2.0, 2.2, 1.9, 1.5, 1.7, 2.0, 1.9, 2.1, 2.3, 4.0, 1.0, 1.5, 1.8],
]

# YAIG
yaig_f = [0.01, 0.02, 0.05, 0.07, 0.1, 0.15, 0.2, 0.25, 0.3, 0.35, 0.38, 0.42, 0.45, 0.5, 0.55, 0.6, 0.68, 0.75, 0.8, 0.9, 1.0, 1.1, 1.25, 1.45, 1.6, 1.8, 2.1, 2.4, 2.8, 3.3, 3.8, 4.3, 5, 6, 7, 8, 9, 10, 12, 14, 17, 20, 22, 23, 25, 28, 30]
yaig_avg = [0.85, 0.87, 0.98, 1.08, 1.16, 1.24, 1.36, 1.72, 2.08, 2.51, 2.76, 2.29, 1.81, 1.98, 1.9, 2.18, 3.18, 2.51, 2.08, 1.9, 2.08, 1.72, 1.9, 2.18, 1.65, 1.98, 1.5, 1.72, 1.9, 2.08, 2.29, 2.08, 1.98, 1.57, 1.9, 1.72, 1.9, 1.9, 1.65, 1.43, 1.3, 1.13, 0.98, 0.61, 0.46, 0.46, 0.51]
yaig_hi = [1.05, 1.1, 1.3, 1.4, 2.0, 2.0, 2.3, 2.8, 4.0, 4.5, 5.0, 3.5, 2.8, 3.2, 3.0, 3.5, 6.3, 4.0, 3.0, 2.8, 2.5, 2.2, 2.5, 3.0, 2.2, 2.5, 2.0, 2.3, 2.5, 2.7, 2.9, 2.6, 2.5, 2.0, 2.3, 2.2, 2.3, 2.3, 2.1, 2.0, 1.9, 1.8, 1.8, 0.9, 0.55, 0.55, 0.55]
yaig_lo = [0.63, 0.64, 0.66, 0.75, 0.7, 0.38, 0.75, 0.7, 0.65, 1.0, 0.8, 0.42, 0.45, 0.9, 0.8, 0.4, 0.035, 0.9, 1.1, 1.0, 1.3, 1.2, 1.3, 1.4, 1.1, 1.3, 0.9, 1.1, 0.8, 1.4, 1.6, 1.5, 1.4, 1.2, 1.3, 1.2, 1.3, 1.2, 1.1, 0.9, 0.8, 0.6, 0.45, 0.15, 0.4, 0.38, 0.45]
yaig_recs = [
    [1.15, 1.3, 1.6, 2.2, 1.5, 2.5, 6.5, 5.5, 3.0, 4.5, 11.0, 2.5, 3.5, 2.5, 5.0, 3.0, 2.5, 2.5, 2.5, 2.2, 2.4, 0.5, 0.55],
    [1.1, 1.2, 1.5, 1.9, 2.0, 2.0, 4.0, 3.0, 3.5, 2.0, 6.0, 2.0, 2.6, 2.3, 2.8, 2.8, 2.2, 2.0, 2.3, 2.0, 2.0, 0.45, 0.5],
    [1.0, 1.05, 1.35, 1.4, 1.2, 2.2, 1.5, 2.5, 1.5, 3.0, 3.5, 1.6, 2.0, 1.8, 2.2, 2.4, 2.0, 1.7, 2.0, 1.8, 1.5, 0.4, 0.45],
    [0.9, 0.95, 1.1, 1.3, 0.5, 0.9, 1.3, 0.8, 2.0, 1.5, 2.0, 2.2, 1.5, 1.3, 2.0, 2.0, 1.5, 1.6, 1.4, 1.2, 1.1, 0.45, 0.4],
    [0.8, 0.85, 0.9, 0.85, 0.3, 1.5, 1.0, 1.5, 1.2, 0.7, 1.5, 1.5, 1.2, 1.6, 1.8, 1.8, 1.4, 1.3, 1.2, 1.0, 1.0, 0.4, 0.4],
    [0.72, 0.75, 0.8, 0.6, 0.7, 0.8, 1.2, 1.8, 0.6, 1.2, 2.5, 1.3, 1.0, 1.5, 1.6, 1.5, 1.2, 1.1, 1.0, 0.9, 0.85, 0.35, 0.4],
    [0.65, 0.68, 0.7, 1.2, 1.0, 1.8, 2.2, 1.2, 2.5, 1.8, 1.8, 1.8, 1.7, 1.2, 2.3, 2.2, 1.8, 1.9, 1.6, 1.5, 1.6, 0.5, 0.45],
    [1.0, 1.1, 1.2, 1.0, 1.5, 1.2, 3.0, 2.0, 1.8, 2.5, 4.0, 1.9, 2.2, 2.0, 2.6, 2.6, 2.3, 2.2, 2.2, 2.1, 2.3, 0.55, 0.5],
    [0.85, 0.9, 1.0, 1.6, 0.8, 1.0, 1.8, 1.3, 1.0, 2.2, 1.0, 1.5, 1.8, 1.1, 1.9, 1.9, 1.6, 1.3, 1.0, 1.0, 1.3, 0.45, 0.45],
]

titles = ['ANIG (2, 147-203 km, S)', 'IGIG (2, 244-250 km, S)', 'JUR1 (4, 154-159 km, N)',
          'DHIG (6, 3-241 km, N)', 'LVIG (3, 226\u2013286  km, N)', 'MOIG (7, 8-268 km, N)',
          'CDGU (2, 25-50 km, S)', 'CJIG (5, 136-219 km, N)', 'COIG (4, 32-263 km, S)',
          'CUIG (6, 27-119 km, S)', 'PPIG (10, 13-150 km, S)', 'YAIG   (9,   36-168   km,   N)']
site_class = ['I', 'I', 'II', 'II', 'II', 'II', 'III', 'III', 'III', 'IV', 'IV', '']

series = [
    (anig_f, anig_avg, anig_hi, anig_lo, anig_recs),
    (igig_f, igig_avg, igig_hi, igig_lo, igig_recs),
    (jur1_f, jur1_avg, jur1_hi, jur1_lo, jur1_recs),
    (dhig_f, dhig_avg, dhig_hi, dhig_lo, dhig_recs),
    (lvig_f, lvig_avg, lvig_hi, lvig_lo, lvig_recs),
    (moig_f, moig_avg, moig_hi, moig_lo, moig_recs),
    (cdgu_f, cdgu_avg, cdgu_hi, cdgu_lo, cdgu_recs),
    (cjig_f, cjig_avg, cjig_hi, cjig_lo, cjig_recs),
    (coig_f, coig_avg, coig_hi, coig_lo, coig_recs),
    (cuig_f, cuig_avg, cuig_hi, cuig_lo, cuig_recs),
    (ppig_f, ppig_avg, ppig_hi, ppig_lo, ppig_recs),
    (yaig_f, yaig_avg, yaig_hi, yaig_lo, yaig_recs),
]

#%% Layout (pixels)
axes_px = [(68.7, 19.7, 338, 307), (418, 20.7, 693.7, 306), (767, 21, 1042, 308),
           (62.3, 372, 338, 650.3), (417, 372, 693.7, 649.3), (767, 372, 1043.7, 649.3),
           (66.3, 711, 339.7, 1008), (417, 711, 693.7, 1009), (767, 711, 1042, 1009),
           (67.3, 1086, 338, 1368.3), (418, 1086, 693.7, 1368.3), (767, 1086, 1042.7, 1369.3)]
title_xy = [(112, 28.7), (448, 29), (796, 29), (101, 387), (448, 387), (793, 387),
            (115, 729), (448, 729), (806, 727), (110, 1098), (466, 1098), (813, 1099)]
class_x = [326, 678, 1015, 322, 676, 1015, 324, 670, 1025, 331, 689, 0]
vgrid_top = [10.5, 13, 13, 13, 13, 13, 13, 13, 13, 30, 30, 13]
boxes = [(9.5, 9.5, 357.5, 333.5), (373.5, 9.5, 713.5, 333.5), (723.5, 9.5, 1060, 333.5),
         (9.5, 364, 357.5, 675), (373.5, 364, 713.5, 675), (723.5, 364, 1060, 675),
         (9.5, 705, 357.5, 1034.5), (373.5, 705, 713.5, 1034.5), (723.5, 705, 1060, 1034.5),
         (9.5, 1077, 357.5, 1420), (373.5, 1077, 713.5, 1420), (723.5, 1077, 1060, 1420)]

def fx(x):
    return x / W

def fy(y):
    return 1 - y / H

ink = '#1a1a33'
grey = '#9a9a9a'
grid_ls = (0, (9, 3, 2, 3))

fig = plt.figure(figsize=(W / 100, H / 100), dpi=100)

for (x0, y0, x1, y1) in boxes:
    fig.add_artist(Rectangle((fx(x0), fy(y1)), (x1 - x0) / W, (y1 - y0) / H,
                             transform=fig.transFigure, fill=False,
                             edgecolor='#b4b4b4', lw=1.0, zorder=0))
# light blue left edges seen on a few frames
for (xb, ya, yb) in [(374.5, 10, 333), (724, 705, 930), (724, 1077, 1300)]:
    fig.add_artist(Line2D([fx(xb), fx(xb)], [fy(ya), fy(yb)], transform=fig.transFigure,
                          color='#9dbbe0', lw=1.6, zorder=0))

for i, (f, avg, hi, lo, recs) in enumerate(series):
    l, t, r, b = axes_px[i]
    ax = fig.add_axes([fx(l), fy(b), (r - l) / W, (b - t) / H])
    ax.set_xscale('log')
    ax.set_yscale('log')
    ax.set_xlim(0.01, 30)
    ax.set_ylim(0.01, 30)
    ax.patch.set_alpha(0)

    ax.hlines([0.1, 1, 10], 0.01, 30, colors='#707070', lw=0.75, linestyles=[grid_ls], zorder=1)
    ax.vlines([0.1, 1, 10], 0.01, vgrid_top[i], colors='#707070', lw=0.75, linestyles=[grid_ls], zorder=1)

    for rec in recs:
        ax.plot(rec_f, rec, color=grey, lw=1.0, zorder=2)
    ax.plot(f, hi, color='black', lw=1.0, ls=(0, (3, 1.8)), zorder=3)
    ax.plot(f, lo, color='black', lw=1.0, ls=(0, (3, 1.8)), zorder=3)
    ax.plot(f, avg, color='black', lw=2.4, zorder=4, solid_joinstyle='round')

    for s in ['top', 'right']:
        ax.spines[s].set_visible(False)
    for s in ['left', 'bottom']:
        ax.spines[s].set_linewidth(1.0)
        ax.spines[s].set_color('black')

    ax.set_xticks([0.01, 0.1, 1, 10])
    ax.set_xticklabels(['0.01', '0.10', '1.00', '10.00'])
    ax.set_yticks([0.01, 0.1, 1, 10])
    ax.set_yticklabels(['0.01', '0.10', '1.00', '10.00'])
    ax.xaxis.set_minor_locator(LogLocator(base=10, subs=np.arange(2, 10)))
    ax.yaxis.set_minor_locator(LogLocator(base=10, subs=np.arange(2, 10)))
    ax.xaxis.set_minor_formatter(NullFormatter())
    ax.yaxis.set_minor_formatter(NullFormatter())
    ax.tick_params(axis='x', which='major', direction='in', length=4, width=0.8, pad=7,
                   labelsize=10, labelcolor=ink)
    ax.tick_params(axis='x', which='minor', direction='in', length=3.5, width=0.6)
    ax.tick_params(axis='y', which='major', direction='out', length=4.5, width=0.8, pad=4,
                   labelsize=10, labelcolor=ink)
    ax.tick_params(axis='y', which='minor', direction='out', length=3, width=0.6)

    tx, ty = title_xy[i]
    fig.text(fx(tx), fy(ty), titles[i], ha='left', va='center', fontsize=13,
             fontweight='bold', color='#111111', zorder=6)
    if site_class[i]:
        fig.text(fx(class_x[i]), fy(ty), site_class[i], ha='center', va='center',
                 fontsize=13, fontweight='bold', color='#111111', zorder=6)

# axis titles
for yc in [155, 514, 856, 1228]:
    fig.text(fx(17), fy(yc), 'H/V Spectral Ratios', rotation=90, ha='center', va='center',
             fontsize=9.8, fontweight='bold', color=ink)
for xc in [183, 545, 888]:
    fig.text(fx(xc), fy(1398), 'Frequency (Hz)', ha='center', va='center',
             fontsize=10, fontweight='bold', color=ink)

# legend in the first panel (white box hides the grid behind it)
fig.add_artist(Rectangle((fx(70), fy(299)), (333 - 70) / W, (299 - 190) / H,
                         transform=fig.transFigure, facecolor='white', edgecolor='none', zorder=4))
leg_lines = [(215, dict(color='#8f8f8f', lw=3.5)),
             (252, dict(color='black', lw=4.5)),
             (270, dict(color='black', lw=3.5, ls=(0, (0.8, 0.6))))]
for yy, kw in leg_lines:
    fig.add_artist(Line2D([fx(80), fx(116)], [fy(yy), fy(yy)], transform=fig.transFigure,
                          zorder=5, **kw))
for xx, yy, txt in [(123, 215, 'H/V spectral ratio estimates'), (130, 233, 'for each record'),
                    (128, 252, 'Average of H / V'), (126, 270, '\u00b1 One standard deviation')]:
    fig.text(fx(xx), fy(yy), txt, ha='left', va='center', fontsize=11.5, color='#111111', zorder=6)

fig.savefig('out.png', dpi=100)
